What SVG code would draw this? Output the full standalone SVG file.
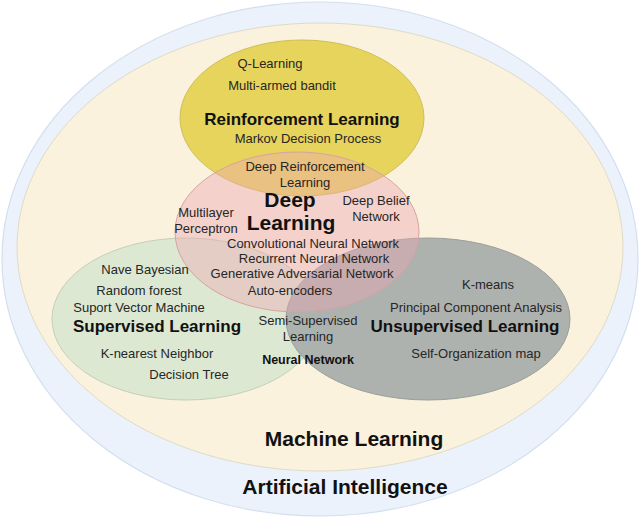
<svg xmlns="http://www.w3.org/2000/svg" width="640" height="518" viewBox="0 0 640 518">
<style>
text{font-family:"Liberation Sans",Arial,sans-serif;text-anchor:middle}
.s{font-size:13px;fill:#262626}
.b{font-weight:bold;fill:#111}
</style>
<rect width="640" height="518" fill="#ffffff"/>
<g id="ai">
<ellipse cx="320" cy="259" rx="318" ry="257" fill="#ecf2fb" stroke="#d3dfee" stroke-width="1.2"/>
</g>
<g id="ml">
<ellipse cx="320" cy="247" rx="303" ry="224" fill="#faf2dd" stroke="#dedbc8" stroke-width="1"/>
</g>
<g id="rl">
<ellipse cx="302" cy="118" rx="122" ry="78" fill="#e7d45c" stroke="#cfbe58" stroke-width="1"/>
</g>
<g id="sl">
<ellipse cx="186" cy="319" rx="134" ry="81" fill="#dde8d3" stroke="#c4cfb9" stroke-width="1"/>
</g>
<g id="ul">
<ellipse cx="428" cy="319" rx="142" ry="81" fill="#a7aca9" fill-opacity="0.92" stroke="#999e9b" stroke-width="1"/>
</g>
<g id="dl">
<ellipse cx="297" cy="232" rx="122" ry="80" fill="#eda8b2" fill-opacity="0.42" stroke="#d6a3a3" stroke-width="1"/>
</g>
<g id="connectors"></g>
<g id="labels">
<text class="s" x="270" y="68">Q-Learning</text>
<text class="s" x="282" y="90">Multi-armed bandit</text>
<text class="b" x="302" y="125" font-size="17">Reinforcement Learning</text>
<text class="s" x="308" y="143">Markov Decision Process</text>
<text class="s" x="305" y="171">Deep Reinforcement</text>
<text class="s" x="305" y="187">Learning</text>
<text class="b" x="290" y="207" font-size="21">Deep</text>
<text class="b" x="291" y="230" font-size="21">Learning</text>
<text class="s" x="206" y="217">Multilayer</text>
<text class="s" x="206" y="233">Perceptron</text>
<text class="s" x="376" y="205">Deep Belief</text>
<text class="s" x="376" y="221">Network</text>
<text class="s" x="313" y="248">Convolutional Neural Network</text>
<text class="s" x="314" y="263">Recurrent Neural Network</text>
<text class="s" x="302" y="278">Generative Adversarial Network</text>
<text class="s" x="290" y="295">Auto-encoders</text>
<text class="s" x="145" y="274">Nave Bayesian</text>
<text class="s" x="139" y="295">Random forest</text>
<text class="s" x="139" y="312">Suport Vector Machine</text>
<text class="b" x="157" y="332" font-size="17">Supervised Learning</text>
<text class="s" x="157" y="358">K-nearest Neighbor</text>
<text class="s" x="189" y="379">Decision Tree</text>
<text class="s" x="308" y="325">Semi-Supervised</text>
<text class="s" x="308" y="341">Learning</text>
<text class="b" x="308" y="364" font-size="12.5">Neural Network</text>
<text class="s" x="488" y="289">K-means</text>
<text class="s" x="476" y="312">Principal Component Analysis</text>
<text class="b" x="465" y="332" font-size="17">Unsupervised Learning</text>
<text class="s" x="476" y="358">Self-Organization map</text>
<text class="b" x="354" y="446" font-size="21">Machine Learning</text>
<text class="b" x="345" y="494" font-size="21">Artificial Intelligence</text>
</g>
</svg>
